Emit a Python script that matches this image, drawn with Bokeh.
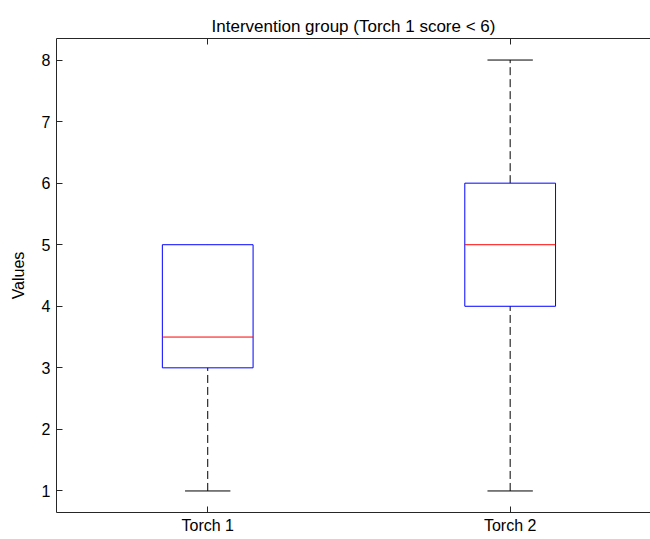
from bokeh.plotting import figure
from bokeh.models import Range1d, LinearAxis, FixedTicker
from bokeh.embed import file_html
from bokeh.resources import INLINE

# ---- data ----
groups = ["Torch 1", "Torch 2"]
positions = [1, 2]
lower_whisker = [1, 1]
q1 = [3, 4]
median = [3.5, 5]
q3 = [5, 6]
upper_whisker = [5, 8]
y_ticks = [1, 2, 3, 4, 5, 6, 7, 8]

# ---- style ----
BOX_W = 0.3
CAP_W = BOX_W / 2
FONT = "Liberation Sans"

p = figure(width=650, height=539, output_backend="svg", toolbar_location=None,
           x_range=Range1d(0.5, 2.464), y_range=Range1d(0.65, 8.35),
           title="Intervention group (Torch 1 score < 6)")
p.min_border_left = 56
p.min_border_right = 0
p.min_border_top = 38
p.min_border_bottom = 27
p.outline_line_color = None
p.background_fill_color = "white"
p.border_fill_color = "white"
p.grid.visible = False

p.title.text_font = FONT
p.title.text_font_size = "17px"
p.title.text_font_style = "normal"
p.title.text_color = "#000000"
p.title.align = "center"
p.title.offset = 9
p.title.standoff = 6

# caps (skip a cap that coincides with the box edge: the box hides it)
lo_x = [x for x, w, b in zip(positions, lower_whisker, q1) if w != b]
lo_y = [w for w, b in zip(lower_whisker, q1) if w != b]
up_x = [x for x, w, b in zip(positions, upper_whisker, q3) if w != b]
up_y = [w for w, b in zip(upper_whisker, q3) if w != b]
p.segment(x0=[x - CAP_W / 2 for x in lo_x], y0=lo_y, x1=[x + CAP_W / 2 for x in lo_x], y1=lo_y,
          line_color="black", line_width=1)
p.segment(x0=[x - CAP_W / 2 for x in up_x], y0=up_y, x1=[x + CAP_W / 2 for x in up_x], y1=up_y,
          line_color="black", line_width=1)

# whiskers (dashed)
p.segment(x0=positions, y0=lower_whisker, x1=positions, y1=q1, line_color="black",
          line_width=1, line_dash="8 4")
p.segment(x0=positions, y0=q3, x1=positions, y1=upper_whisker, line_color="black",
          line_width=1, line_dash="8 4")

# boxes
p.vbar(x=positions, width=BOX_W, bottom=q1, top=q3, fill_color=None,
       line_color="#0000ff", line_width=1)

# medians
p.segment(x0=[x - BOX_W / 2 for x in positions], y0=median,
          x1=[x + BOX_W / 2 for x in positions], y1=median,
          line_color="#ff0000", line_width=1)

# ---- axes ----
def style_axis(ax):
    ax.axis_line_color = "#262626"
    ax.axis_line_width = 1
    ax.major_tick_line_color = "#262626"
    ax.major_tick_in = 6
    ax.major_tick_out = 0
    ax.minor_tick_line_color = None
    ax.major_label_text_font = FONT
    ax.major_label_text_font_size = "16px"
    ax.major_label_text_color = "#000000"

xa = p.xaxis[0]
xa.ticker = FixedTicker(ticks=positions)
xa.major_label_overrides = {k: v for k, v in zip(positions, groups)}
xa.major_label_standoff = 4
style_axis(xa)

ya = p.yaxis[0]
ya.ticker = FixedTicker(ticks=y_ticks)
ya.major_label_standoff = 6
ya.axis_label = "Values"
ya.axis_label_text_font = FONT
ya.axis_label_text_font_size = "16px"
ya.axis_label_text_font_style = "normal"
ya.axis_label_text_color = "#000000"
ya.axis_label_standoff = 12
style_axis(ya)

top = LinearAxis(ticker=FixedTicker(ticks=positions))
style_axis(top)
top.major_label_text_color = None
top.major_label_standoff = 0
p.add_layout(top, "above")

open("out.html", "w").write(file_html(p, INLINE))
